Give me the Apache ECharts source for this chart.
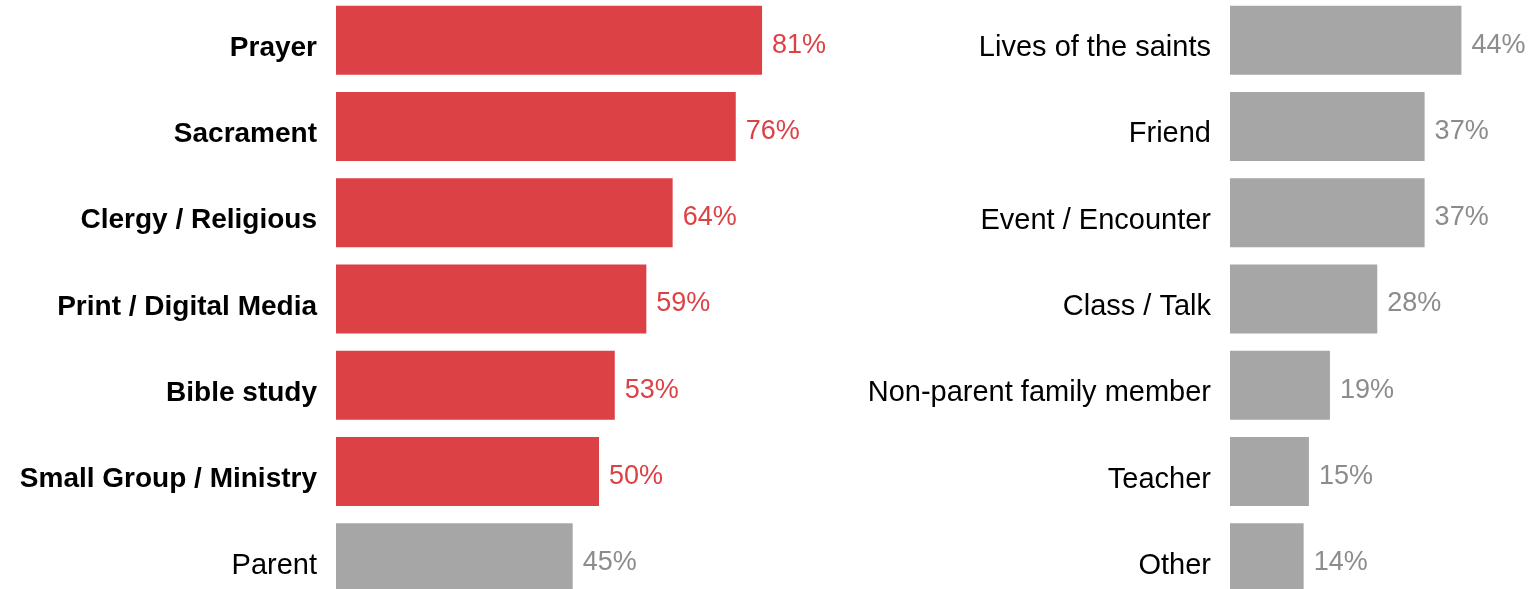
<!DOCTYPE html>
<html>
<head>
<meta charset="utf-8">
<script src="https://cdn.jsdelivr.net/npm/echarts@6/dist/echarts.min.js"></script>
<style>
html,body{margin:0;padding:0;background:#fff;}
#c{width:1533px;height:589px;}
</style>
</head>
<body>
<div id="c"></div>
<script>
const leftCategories = ['Prayer','Sacrament','Clergy / Religious','Print / Digital Media','Bible study','Small Group / Ministry','Parent'];
const leftValues = [81,76,64,59,53,50,45];
const leftHighlighted = [true,true,true,true,true,true,false];
const rightCategories = ['Lives of the saints','Friend','Event / Encounter','Class / Talk','Non-parent family member','Teacher','Other'];
const rightValues = [44,37,37,28,19,15,14];

const RED = '#DC4145';
const GRAY = '#A6A6A6';
const RED_TXT = '#DC4145';
const GRAY_TXT = '#8C8C8C';
const FONT = '"Liberation Sans", Arial, sans-serif';

const chart = echarts.init(document.getElementById('c'), null, {renderer:'canvas'});

function yAxis(idx, cats, boldFlags){
  return {
    type:'category', gridIndex: idx, data: cats, inverse:true,
    axisLine:{show:false}, axisTick:{show:false}, splitLine:{show:false},
    axisLabel:{
      margin: 19, fontFamily: FONT, fontSize: 29, color:'#000',
      padding:[16,0,0,0],
      formatter: function(v, i){ return boldFlags && boldFlags[i] ? '{b|' + v + '}' : '{n|' + v + '}'; },
      rich:{
        b:{ fontWeight:'bold', fontSize:28, fontFamily:FONT, color:'#000' },
        n:{ fontSize:29, fontFamily:FONT, color:'#000' }
      }
    }
  };
}
function xAxis(idx){
  return { type:'value', gridIndex: idx, min:0, max:100, show:false };
}

chart.setOption({
  backgroundColor:'#fff',
  animation:false,
  grid:[
    {left:336, top:-3, width:526, height:604, outerBoundsMode:'none', containLabel:false},
    {left:1230, top:-3, width:526, height:604, outerBoundsMode:'none', containLabel:false}
  ],
  xAxis:[xAxis(0), xAxis(1)],
  yAxis:[yAxis(0, leftCategories, leftHighlighted), yAxis(1, rightCategories, null)],
  series:[
    {
      type:'bar', xAxisIndex:0, yAxisIndex:0, barCategoryGap:'20%',
      data: leftValues.map((v,i)=>({
        value:v,
        itemStyle:{color: leftHighlighted[i] ? RED : GRAY},
        label:{color: leftHighlighted[i] ? RED_TXT : GRAY_TXT}
      })),
      label:{show:true, position:'right', distance:10, offset:[0,5], fontFamily:FONT, fontSize:27, formatter:'{c}%'}
    },
    {
      type:'bar', xAxisIndex:1, yAxisIndex:1, barCategoryGap:'20%',
      data: rightValues,
      itemStyle:{color:GRAY},
      label:{show:true, position:'right', distance:10, offset:[0,5], fontFamily:FONT, fontSize:27, color:GRAY_TXT, formatter:'{c}%'}
    }
  ]
});
</script>
</body>
</html>
